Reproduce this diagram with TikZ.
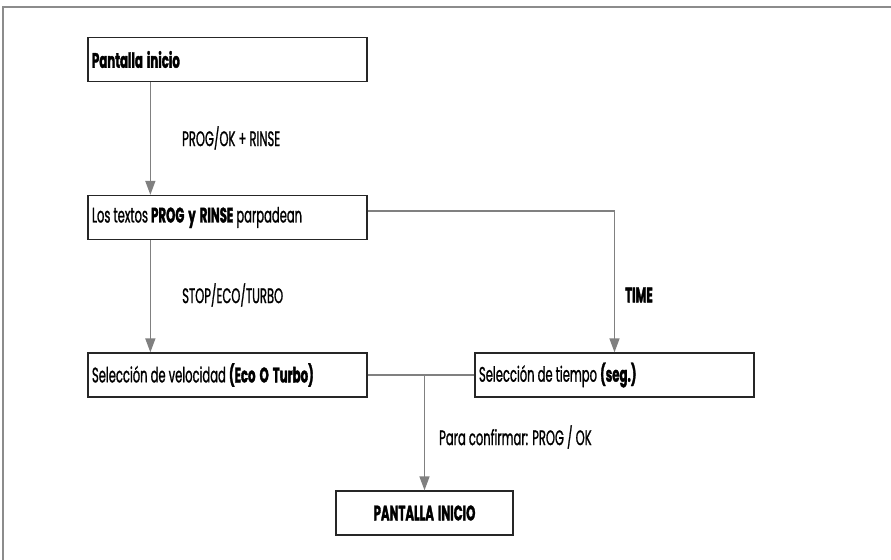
\documentclass[tikz,border=0pt]{standalone}
\usepackage{fontspec}
\setmainfont{Poppins}[
  UprightFeatures={FakeStretch=0.55, FakeBold=1},
  BoldFeatures={FakeStretch=0.56, FakeBold=1.5, WordSpace=1.6}]
\usetikzlibrary{arrows.meta,calc}
\tikzset{
  stepbox/.style={draw=black!85, line width=1.3bp, minimum height=44bp,
    inner ysep=0pt, inner xsep=4bp,
    font=\fontsize{21bp}{22bp}\selectfont},
  widebox/.style={stepbox, minimum width=279bp,
    execute at begin node={\hbox to 271bp\bgroup},
    execute at end node={\hfil\egroup}},
  conn/.style={draw=black!50, line width=1.5bp},
  arr/.style={conn, -{Triangle[length=14bp,width=10bp]}},
  lbl/.style={anchor=west, inner sep=0pt, font=\fontsize{21bp}{22bp}\selectfont},
  frameline/.style={draw=black!45, line width=1.5bp}
}
\begin{document}
\begin{tikzpicture}[x=1bp,y=-1bp]
\useasboundingbox (0,0) rectangle (891,560);
% outer frame (top and left edges)
\draw[frameline] (891,7) -- (3,7) -- (3,560);

% steps
\node[widebox] (b1) at (227.5,59.5) {\textbf{Pantalla inicio}};
\node[widebox] (b2) at (227.5,217.5) {Los textos \textbf{PROG y RINSE} parpadean};
\node[widebox] (b3) at (227.5,375) {Selección de velocidad \textbf{(Eco O Turbo)}};
\node[widebox] (b4) at (614.5,375) {Selección de tiempo \textbf{(seg.)}};
\node[stepbox, minimum width=177bp] (b5) at (424.5,513) {\textbf{PANTALLA INICIO}};

% connectors
\draw[arr] ([xshift=63bp]b1.south west) -- ([xshift=63bp]b2.north west);
\draw[arr] ([xshift=63bp]b2.south west) -- ([xshift=63bp]b3.north west);
\draw[arr] ([yshift=6.5bp]b2.east) -| (b4.north);
\draw[conn] (b3.east) -- (b4.west);
\coordinate (j) at (b5.north |- b3.east);
\draw[arr] (j) -- (b5.north);

% labels
\node[lbl] at (182,138) {PROG/OK + RINSE};
\node[lbl] at (182,295) {STOP/ECO/TURBO};
\node[lbl] at (625,295) {\textbf{TIME}};
\node[lbl] at (439,437) {Para confirmar: PROG / OK};
\end{tikzpicture}
\end{document}
